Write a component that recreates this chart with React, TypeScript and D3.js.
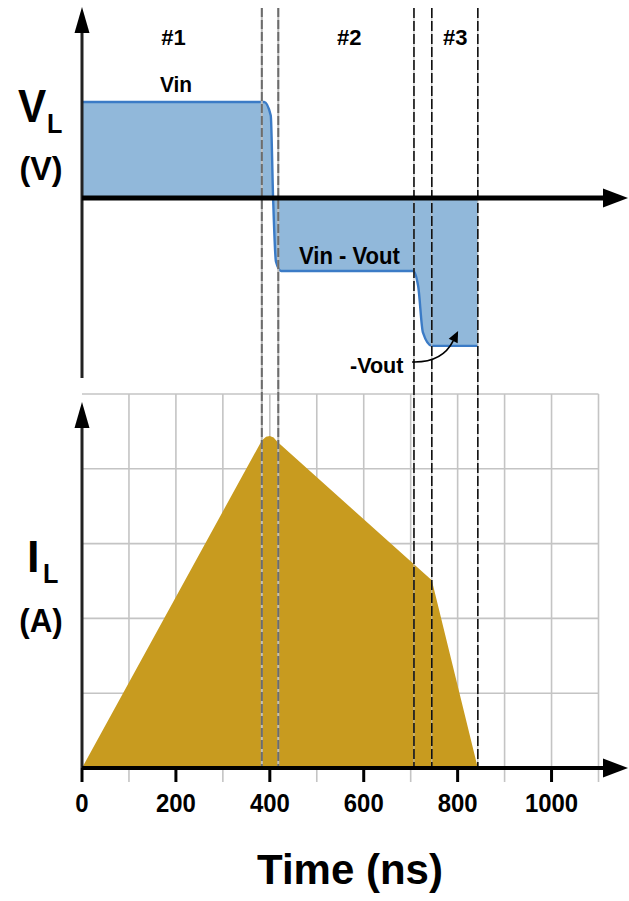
import React from "react";
import * as d3 from "d3";

// Inductor voltage waveform (ns, V)
const vlTime = [0, 388, 402, 407, 413, 424, 705, 716, 726, 745, 843];
const vlVolts = [5, 5, 4.3, 0, -3.3, -3.8, -3.8, -4.6, -7.0, -7.7, -7.7];

// Inductor current waveform (ns, A)
const ilTime = [0, 383, 392, 400, 408, 416, 745, 843];
const ilAmps = [0, 4.38, 4.43, 4.44, 4.42, 4.36, 2.51, 0];

// Phase boundary markers (ns)
const softEdges = [383, 418];
const hardEdges = [707, 745, 843];

// Phase labels
const phaseLabels = ["#1", "#2", "#3"];
const phaseCenters = [195, 569, 795];

const timeTicks = [0, 200, 400, 600, 800, 1000];
const gridTimes = [100, 200, 300, 400, 500, 600, 700, 800, 900, 1000, 1100];
const gridAmps = [1, 2, 3, 4, 5];

const W = 629;
const H = 901;
const FONT = "'Liberation Sans', Arial, Helvetica, sans-serif";

const BLUE_FILL = "#91b8da";
const BLUE_LINE = "#3b7bc6";
const GOLD = "#c89b1f";

// Bold text narrowed horizontally, anchored at (x, y)
function NText(props: {
  x: number;
  y: number;
  size: number;
  k?: number;
  anchor?: "start" | "middle" | "end";
  children: React.ReactNode;
}) {
  const { x, y, size, k = 1, anchor = "start", children } = props;
  return (
    <text
      transform={`translate(${x},${y}) scale(${k},1)`}
      fontSize={size}
      textAnchor={anchor}
      fill="#000"
    >
      {children}
    </text>
  );
}

export default function App() {
  const x = d3.scaleLinear().domain([0, 1100]).range([82, 598.5]);
  const yV = d3.scaleLinear().domain([0, 5]).range([198, 102]);
  const yI = d3.scaleLinear().domain([0, 5]).range([768, 394]);

  const vlPts = vlTime.map((t, i) => [t, vlVolts[i]] as [number, number]);
  const ilPts = ilTime.map((t, i) => [t, ilAmps[i]] as [number, number]);

  const vArea = d3
    .area<[number, number]>()
    .x((d) => x(d[0]))
    .y0(yV(0))
    .y1((d) => yV(d[1]))
    .curve(d3.curveMonotoneX);
  const vLine = d3
    .line<[number, number]>()
    .x((d) => x(d[0]))
    .y((d) => yV(d[1]))
    .curve(d3.curveMonotoneX);
  const iArea = d3
    .area<[number, number]>()
    .x((d) => x(d[0]))
    .y0(yI(0))
    .y1((d) => yI(d[1]));

  const axisX0 = x(0);
  const vTop = 7;
  const vBottom = 378;
  const iTop = 402;
  const xEnd = 628;

  const upArrow = (cx: number, tip: number) =>
    `M${cx},${tip} L${cx - 7.5},${tip + 26} L${cx + 7.5},${tip + 26} Z`;
  const rightArrow = (cy: number, tip: number) =>
    `M${tip},${cy} L${tip - 25},${cy - 9.5} L${tip - 25},${cy + 9.5} Z`;

  // annotation arrow pointing at the -Vout level
  const aStart: [number, number] = [x(703), yV(-8.54)];
  const aTip: [number, number] = [x(801), yV(-6.93)];
  const ctrl: [number, number] = [aStart[0] + 30, aStart[1] + 1];
  const dx = aTip[0] - ctrl[0];
  const dy = aTip[1] - ctrl[1];
  const len = Math.hypot(dx, dy);
  const ux = dx / len;
  const uy = dy / len;
  const headBase: [number, number] = [aTip[0] - ux * 11, aTip[1] - uy * 11];
  const head = `M${aTip[0]},${aTip[1]} L${headBase[0] - uy * 5},${headBase[1] + ux * 5} L${headBase[0] + uy * 5},${headBase[1] - ux * 5} Z`;

  return (
    <svg
      width={W}
      height={H}
      viewBox={`0 0 ${W} ${H}`}
      style={{ position: "absolute", left: 0, top: 0, background: "#fff" }}
      fontFamily={FONT}
      fontWeight="bold"
    >
      <rect width={W} height={H} fill="#fff" />

      {/* current plot grid */}
      <g stroke="#c4c4c4" strokeWidth={1.6}>
        {gridAmps.map((a) => (
          <line key={"h" + a} x1={axisX0} x2={x(1100)} y1={yI(a)} y2={yI(a)} />
        ))}
        {gridTimes.map((t) => (
          <line key={"v" + t} x1={x(t)} x2={x(t)} y1={yI(5)} y2={yI(0) + 14} />
        ))}
      </g>

      {/* inductor current */}
      <path d={iArea(ilPts) ?? ""} fill={GOLD} />

      {/* inductor voltage */}
      <path d={vArea(vlPts) ?? ""} fill={BLUE_FILL} />
      <path d={vLine(vlPts) ?? ""} fill="none" stroke={BLUE_LINE} strokeWidth={2.4} />

      {/* phase boundaries */}
      {softEdges.map((t) => (
        <g key={"s" + t}>
          <line x1={x(t)} x2={x(t)} y1={8} y2={768} stroke="#bdbdbd" strokeWidth={2} />
          <line
            x1={x(t)}
            x2={x(t)}
            y1={8}
            y2={768}
            stroke="#5e5e5e"
            strokeOpacity={0.85}
            strokeWidth={2}
            strokeDasharray="9 3"
          />
        </g>
      ))}
      {hardEdges.map((t) => (
        <g key={"h" + t}>
          <line x1={x(t)} x2={x(t)} y1={8} y2={768} stroke="#bbbbbb" strokeWidth={1} />
          <line
            x1={x(t)}
            x2={x(t)}
            y1={8}
            y2={768}
            stroke="#111"
            strokeWidth={1.6}
            strokeDasharray="10 3"
          />
        </g>
      ))}

      {/* voltage axes */}
      <line x1={axisX0} x2={axisX0} y1={vTop + 20} y2={vBottom} stroke="#222" strokeWidth={3} />
      <path d={upArrow(axisX0, vTop)} fill="#000" />
      <line x1={axisX0} x2={xEnd - 20} y1={yV(0)} y2={yV(0)} stroke="#000" strokeWidth={5} />
      <path d={rightArrow(yV(0), xEnd)} fill="#000" />

      {/* current axes */}
      <line x1={axisX0} x2={axisX0} y1={iTop + 20} y2={yI(0)} stroke="#222" strokeWidth={3} />
      <path d={upArrow(axisX0, iTop)} fill="#000" />
      <line x1={axisX0} x2={xEnd - 20} y1={yI(0)} y2={yI(0)} stroke="#000" strokeWidth={4} />
      <path d={rightArrow(yI(0), xEnd)} fill="#000" />
      {timeTicks.map((t) => (
        <line key={"tk" + t} x1={x(t)} x2={x(t)} y1={yI(0)} y2={yI(0) + 14} stroke="#000" strokeWidth={3} />
      ))}
      {timeTicks.map((t) => (
        <NText key={"tl" + t} x={x(t)} y={812} size={26} k={0.92} anchor="middle">
          {t}
        </NText>
      ))}
      <NText x={350} y={884} size={42} k={1} anchor="middle">
        Time (ns)
      </NText>

      {/* phase labels */}
      {phaseLabels.map((l, i) => (
        <NText key={l} x={x(phaseCenters[i])} y={45} size={22} k={1} anchor="middle">
          {l}
        </NText>
      ))}

      {/* level annotations */}
      <NText x={176} y={92} size={22} k={0.95} anchor="middle">
        Vin
      </NText>
      <NText x={299} y={264} size={23} k={0.96}>
        Vin - Vout
      </NText>
      <NText x={350} y={373} size={22} k={0.98}>
        -Vout
      </NText>
      <path
        d={`M${aStart[0]},${aStart[1]} Q${ctrl[0]},${ctrl[1]} ${headBase[0]},${headBase[1]}`}
        fill="none"
        stroke="#000"
        strokeWidth={1.6}
      />
      <path d={head} fill="#000" />

      {/* axis titles */}
      <NText x={18} y={122} size={47} k={0.9}>
        V
      </NText>
      <NText x={47} y={133} size={28} k={0.9}>
        L
      </NText>
      <NText x={41} y={180} size={34} k={0.95} anchor="middle">
        (V)
      </NText>
      <NText x={27} y={572} size={45} k={1}>
        I
      </NText>
      <NText x={43} y={583} size={28} k={0.9}>
        L
      </NText>
      <NText x={41} y={632} size={33} k={0.95} anchor="middle">
        (A)
      </NText>
    </svg>
  );
}
